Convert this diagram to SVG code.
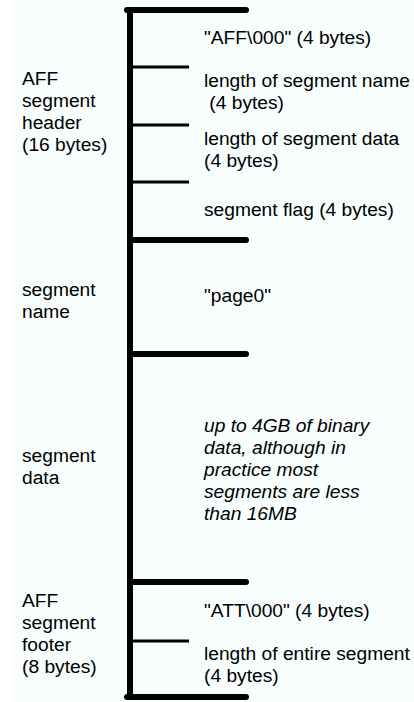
<svg xmlns="http://www.w3.org/2000/svg" width="414" height="702" viewBox="0 0 414 702">
<style>
text{font-family:"Liberation Sans",Arial,Helvetica,sans-serif;font-size:19.2px;fill:#000}
.it{font-style:italic}
.thick{stroke:#000;stroke-width:6;stroke-linecap:round;fill:none}
.thin{stroke:#000;stroke-width:3;fill:none}
.spine{stroke:#000;stroke-width:6;fill:none}
</style>
<rect x="0" y="0" width="414" height="702" fill="#ffffff"/>
<rect x="13" y="0" width="401" height="702" fill="#f8fdfd"/>
<g id="connectors">
<line class="spine" x1="130" y1="7" x2="130" y2="700"/>
<path class="thick" d="M127 10 H246"/>
<line class="thin" x1="130" y1="67" x2="189" y2="67"/>
<line class="thin" x1="130" y1="125" x2="189" y2="125"/>
<line class="thin" x1="130" y1="182" x2="189" y2="182"/>
<path class="thick" d="M130 240 H246"/>
<path class="thick" d="M130 354 H246"/>
<path class="thick" d="M130 582 H246"/>
<line class="thin" x1="130" y1="641" x2="189" y2="641"/>
<path class="thick" d="M127 697 H246"/>
</g>
<g id="header">
<text x="22" y="85">AFF</text>
<text x="22" y="107">segment</text>
<text x="22" y="129">header</text>
<text x="22" y="151">(16 bytes)</text>
<text x="204" y="44">"AFF\000" (4 bytes)</text>
<text x="204" y="87">length of segment name</text>
<text x="204" y="109" xml:space="preserve"> (4 bytes)</text>
<text x="204" y="145">length of segment data</text>
<text x="204" y="167">(4 bytes)</text>
<text x="204" y="216">segment flag (4 bytes)</text>
</g>
<g id="name">
<text x="22" y="296">segment</text>
<text x="22" y="318">name</text>
<text x="204" y="302">"page0"</text>
</g>
<g id="data">
<text x="22" y="462">segment</text>
<text x="22" y="484">data</text>
<text class="it" x="204" y="432">up to 4GB of binary</text>
<text class="it" x="204" y="454">data, although in</text>
<text class="it" x="204" y="476">practice most</text>
<text class="it" x="204" y="498">segments are less</text>
<text class="it" x="204" y="520">than 16MB</text>
</g>
<g id="footer">
<text x="22" y="607">AFF</text>
<text x="22" y="629">segment</text>
<text x="22" y="651">footer</text>
<text x="22" y="673">(8 bytes)</text>
<text x="204" y="617">"ATT\000" (4 bytes)</text>
<text x="204" y="660">length of entire segment</text>
<text x="204" y="682">(4 bytes)</text>
</g>
</svg>
